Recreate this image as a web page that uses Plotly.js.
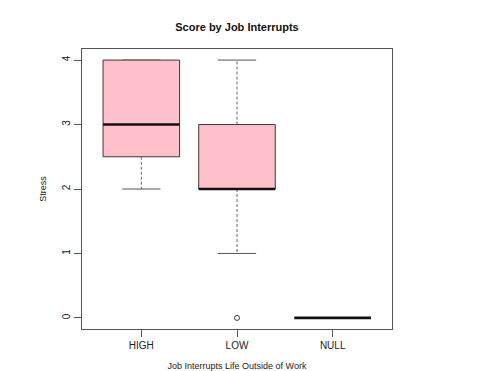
<!DOCTYPE html>
<html>
<head>
<meta charset="utf-8">
<script src="https://cdn.plot.ly/plotly-3.0.1.min.js"></script>
<style>html,body{margin:0;padding:0;background:#fff;}#chart{width:486px;height:371px;}</style>
</head>
<body>
<div id="chart"></div>
<script>
// Data
const categories = ["HIGH", "LOW", "NULL"];
const lowerWhisker = [2, 1, 0];
const q1Values = [2.5, 2, 0];
const medianValues = [3, 2, 0];
const q3Values = [4, 3, 0];
const upperWhisker = [4, 4, 0];
const outlierValues = [[], [0], []];
const yTicks = [0, 1, 2, 3, 4];

const boxHalf = 0.4, capHalf = 0.2;
const lineCol = "#3a3a3a";
const traces = [];
categories.forEach((c, i) => {
  const x = i + 1;
  // whiskers (dashed)
  traces.push({x: [x, x], y: [q3Values[i], upperWhisker[i]], mode: "lines", line: {color: "#666", width: 1, dash: "3px,2px"}, hoverinfo: "skip", showlegend: false});
  traces.push({x: [x, x], y: [q1Values[i], lowerWhisker[i]], mode: "lines", line: {color: "#666", width: 1, dash: "3px,2px"}, hoverinfo: "skip", showlegend: false});
  // caps
  traces.push({x: [x - capHalf, x + capHalf], y: [upperWhisker[i], upperWhisker[i]], mode: "lines", line: {color: "#555", width: 1}, hoverinfo: "skip", showlegend: false});
  traces.push({x: [x - capHalf, x + capHalf], y: [lowerWhisker[i], lowerWhisker[i]], mode: "lines", line: {color: "#555", width: 1}, hoverinfo: "skip", showlegend: false});
  // box
  traces.push({x: [x - boxHalf, x + boxHalf, x + boxHalf, x - boxHalf, x - boxHalf],
               y: [q1Values[i], q1Values[i], q3Values[i], q3Values[i], q1Values[i]],
               mode: "lines", fill: "toself", fillcolor: "#FFC0CB", line: {color: lineCol, width: 1}, hoverinfo: "skip", showlegend: false});
  // median
  traces.push({x: [x - boxHalf, x + boxHalf], y: [medianValues[i], medianValues[i]], mode: "lines", line: {color: "#111111", width: 2.6}, hoverinfo: "skip", showlegend: false});
  // outliers
  if (outlierValues[i].length) {
    traces.push({x: outlierValues[i].map(() => x), y: outlierValues[i], mode: "markers",
                 marker: {symbol: "circle-open", size: 5, color: lineCol, line: {width: 1}}, hoverinfo: "skip", showlegend: false});
  }
});

const font = {family: "Liberation Sans, Arial, sans-serif", color: "#222", size: 10};
const layout = {
  width: 486, height: 371,
  margin: {l: 82, r: 94, t: 49, b: 42},
  paper_bgcolor: "#fff", plot_bgcolor: "#fff",
  font: font,
  title: {text: "<b>Score by Job Interrupts</b>", x: 0.4877, xanchor: "center", y: 0.927, yanchor: "middle", font: {family: font.family, size: 11, color: "#111"}},
  xaxis: {
    range: [0.38, 3.62], tickmode: "array", tickvals: [1, 2, 3], ticktext: categories,
    showgrid: false, zeroline: false, showline: true, mirror: true, linecolor: "#555", linewidth: 1,
    ticks: "outside", ticklen: 7, tickcolor: "#555", tickfont: {size: 10},
    title: {text: "Job Interrupts Life Outside of Work", standoff: 12, font: {size: 9}}
  },
  yaxis: {
    range: [-0.172, 4.172], tickmode: "array", tickvals: yTicks, ticktext: yTicks.map(String),
    showgrid: false, zeroline: false, showline: true, mirror: true, linecolor: "#555", linewidth: 1,
    ticks: "outside", ticklen: 7, tickcolor: "#555", tickangle: -90, tickfont: {size: 10},
    title: {text: "Stress", standoff: 12, font: {size: 9}}
  }
};
Plotly.newPlot("chart", traces, layout, {staticPlot: true, displayModeBar: false});
</script>
</body>
</html>
